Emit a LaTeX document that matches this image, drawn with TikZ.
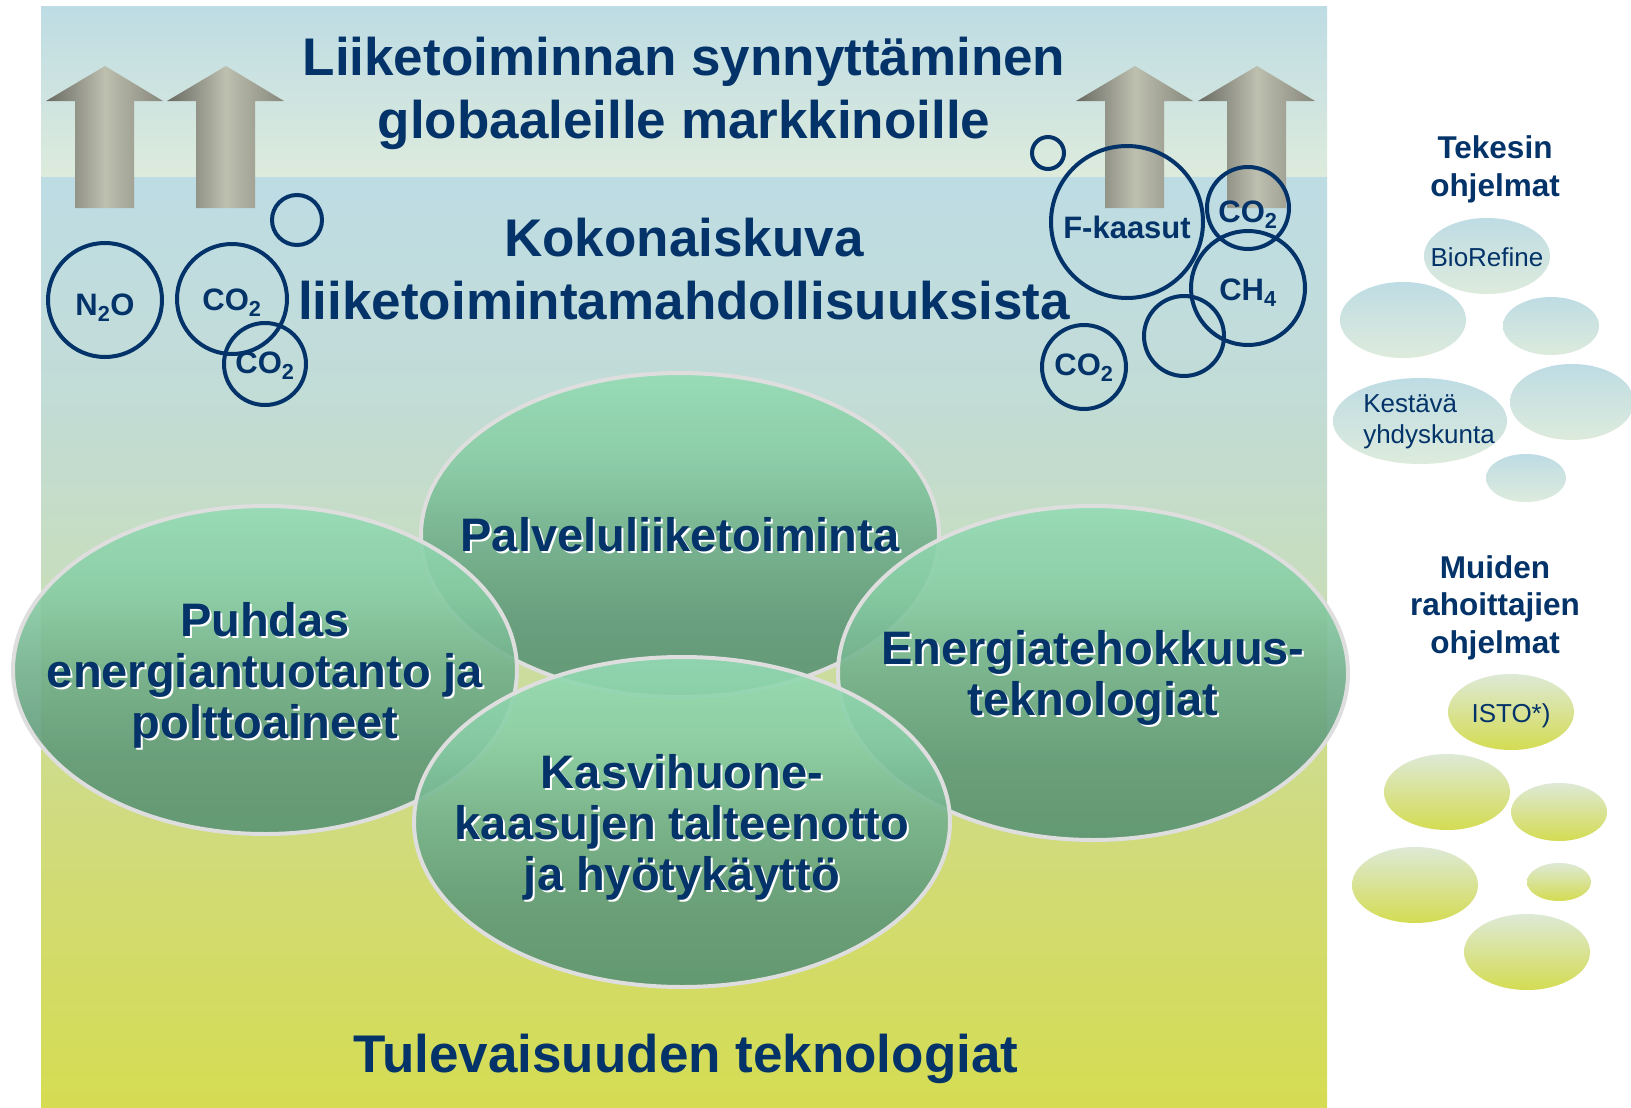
\documentclass[tikz,border=0pt]{standalone}
\usepackage{fontspec}
\setmainfont{Liberation Sans}
\usetikzlibrary{shapes.geometric}

\definecolor{navy}{RGB}{3,51,104}
\definecolor{skyblue}{RGB}{190,220,228}
\definecolor{palegreen}{RGB}{221,235,220}
\definecolor{bgc0}{RGB}{213,220,82}
\definecolor{bgc1}{RGB}{210,219,112}
\definecolor{bgc2}{RGB}{205,220,150}
\definecolor{bgc3}{RGB}{199,221,192}
\definecolor{bgc4}{RGB}{194,220,214}
\definecolor{oval1}{RGB}{88,146,114}
\definecolor{oval2}{RGB}{95,153,121}
\definecolor{oval3}{RGB}{114,176,140}
\definecolor{oval4}{RGB}{136,205,165}
\definecolor{oval5}{RGB}{148,219,180}
\definecolor{ovalrim}{RGB}{222,222,222}
\definecolor{arrowdark}{RGB}{105,105,98}
\definecolor{arrowlight}{RGB}{189,191,175}
\definecolor{arrowright}{RGB}{135,136,124}
\definecolor{yellowgreen}{RGB}{212,220,82}
\definecolor{paleyellow}{RGB}{221,233,214}

\pgfdeclareverticalshading{lowerbg}{100bp}{color(0bp)=(bgc0); color(25bp)=(bgc0); color(36bp)=(bgc1); color(47bp)=(bgc2); color(54bp)=(bgc3); color(63bp)=(bgc4); color(75bp)=(skyblue); color(100bp)=(skyblue)}
\pgfdeclareverticalshading{ovalshade}{100bp}{color(0bp)=(oval1); color(25bp)=(oval1); color(37bp)=(oval2); color(50bp)=(oval3); color(62bp)=(oval4); color(75bp)=(oval5); color(100bp)=(oval5)}

\newcommand{\stacktop}[1]{\begin{tabular}[t]{@{}c@{}}#1\end{tabular}}
\newcommand{\ovaltext}[2]{\makebox[0pt]{\raisebox{#1}[0pt][0pt]{\rlap{\raisebox{-2pt}[0pt][0pt]{\hspace{2pt}\color{white}\stacktop{#2}}}\stacktop{#2}}}}
\newcommand{\programme}[2]{\makebox[0pt]{\raisebox{#1}[0pt][0pt]{#2}}}

\begin{document}
\begin{tikzpicture}[x=1pt,y=-1pt,
  gas/.style={circle,draw=navy,line width=4pt,inner sep=0pt,text=navy,font=\fontsize{31}{37}\selectfont\bfseries,text height=22pt,text depth=0pt},
  oval/.style={ellipse,shade,shading=ovalshade,draw=ovalrim,line width=4pt,inner sep=0pt,fill opacity=0.9,text opacity=1,text=navy,font=\fontsize{47}{51}\selectfont\bfseries},
  title/.style={text=navy,font=\fontsize{53}{63}\selectfont\bfseries,inner sep=0pt,anchor=base},
  head/.style={text=navy,font=\fontsize{31.5}{38}\selectfont\bfseries,inner sep=0pt,anchor=base},
  tekes/.style={ellipse,inner sep=0pt,top color=skyblue,bottom color=palegreen,text=navy,font=\fontsize{26}{31}\selectfont},
  muut/.style={ellipse,inner sep=0pt,top color=paleyellow,bottom color=yellowgreen,text=navy,font=\fontsize{26}{31}\selectfont},
  arrowfill/.style={left color=arrowdark,right color=arrowright,middle color=arrowlight}]

%background
\useasboundingbox (0,0) rectangle (1631,1108);
\fill[white] (0,0) rectangle (1631,1108);
\shade[top color=skyblue,bottom color=palegreen] (41,7) rectangle (1327,177);
\shade[shading=lowerbg] (41,177) rectangle (1327,1108);

%arrows
\foreach \ax in {105,226,1135,1257}
  \shade[arrowfill] (\ax,66) -- ({\ax+58},101) -- ({\ax+29},101) -- ({\ax+29},208)
    -- ({\ax-30},208) -- ({\ax-30},101) -- ({\ax-59},101) -- cycle;

%gases
\node[gas,minimum size=114,text height=30pt] (n2o) at (105,300) {N\textsubscript{2}O};
\node[gas,minimum size=110] (co2a) at (232,299) {CO\textsubscript{2}};
\node[gas,minimum size=82,text height=18pt] (co2b) at (265,364) {CO\textsubscript{2}};
\node[gas,minimum size=50] (bub1) at (297,220) {};
\node[gas,minimum size=32] (bub2) at (1048,153) {};
\node[gas,minimum size=152,text height=32pt] (fgas) at (1127,222) {F-kaasut};
\node[gas,minimum size=82,text height=28pt] (co2c) at (1248,208) {CO\textsubscript{2}};
\node[gas,minimum size=114,text height=24pt] (ch4) at (1248,288) {CH\textsubscript{4}};
\node[gas,minimum size=80] (bub3) at (1184,336) {};
\node[gas,minimum size=84,text height=16pt] (co2d) at (1084,367) {CO\textsubscript{2}};

%titles
\node[title] (markets) at (684,75) {\stacktop{Liiketoiminnan synnyttäminen\\globaaleille markkinoille}};
\node[title] (overview) at (684,256) {\stacktop{Kokonaiskuva\\liiketoimintamahdollisuuksista}};
\node[title] (future) at (686,1072) {Tulevaisuuden teknologiat};

%ovals
\node[oval,minimum width=518,minimum height=324] (palvelu) at (680,535) {\ovaltext{-16.8pt}{Palveluliiketoiminta}};
\node[oval,minimum width=504,minimum height=328] (puhdas) at (265,670) {\ovaltext{34pt}{Puhdas\\energiantuotanto ja\\polttoaineet}};
\node[oval,minimum width=510,minimum height=334] (energia) at (1093,673) {\ovaltext{8.6pt}{Energiatehokkuus-\\teknologiat}};
\node[oval,minimum width=536,minimum height=330] (kasvi) at (682,822) {\ovaltext{34pt}{Kasvihuone-\\kaasujen talteenotto\\ja hyötykäyttö}};

%programmes
\node[head] (tekesin) at (1495,158) {\stacktop{Tekesin\\ohjelmat}};
\node[tekes,minimum width=126,minimum height=76] (biorefine) at (1487,256) {\programme{-10pt}{BioRefine}};
\foreach \px/\py/\pw/\ph [count=\i] in {1403/320/126/76, 1551/326/96/58, 1572/402/124/76, 1526/478/80/48}
  \node[tekes,minimum width=\pw,minimum height=\ph] (tekes\i) at (\px,\py) {};
\node[tekes,minimum width=174,minimum height=86] (kestava) at (1420,421) {\programme{9pt}{\hspace{18pt}\begin{tabular}[t]{@{}l@{}}Kestävä\\yhdyskunta\end{tabular}}};

\node[head,font=\fontsize{31.5}{37.5}\selectfont\bfseries] (muiden) at (1495,578) {\stacktop{Muiden\\rahoittajien\\ohjelmat}};
\node[muut,minimum width=126,minimum height=76] (isto) at (1511,712) {\programme{-10pt}{ISTO*)}};
\foreach \px/\py/\pw/\ph [count=\i] in {1447/792/126/76, 1559/812/96/58, 1415/885/126/76, 1559/882/64/38, 1527/952/126/76}
  \node[muut,minimum width=\pw,minimum height=\ph] (muut\i) at (\px,\py) {};

\end{tikzpicture}
\end{document}
